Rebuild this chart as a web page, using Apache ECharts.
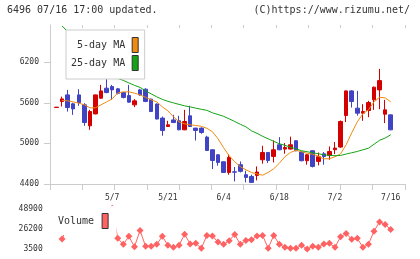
<!DOCTYPE html>
<html>
<head>
<meta charset="utf-8">
<script src="https://cdn.jsdelivr.net/npm/echarts@6.0.0/dist/echarts.min.js"></script>
<style>
html, body { margin: 0; padding: 0; background: #fff; }
#main { width: 420px; height: 259px; }
</style>
</head>
<body>
<div id="main"></div>
<script>
var dates = ['4/23','4/24','4/25','4/26','4/29','4/30','5/1','5/2','5/3','5/6',
  '5/7','5/8','5/9','5/10','5/13','5/14','5/15','5/16','5/17','5/20',
  '5/21','5/22','5/23','5/24','5/27','5/28','5/29','5/30','5/31','6/3',
  '6/4','6/5','6/6','6/7','6/10','6/11','6/12','6/13','6/14','6/17',
  '6/18','6/19','6/20','6/21','6/24','6/25','6/26','6/27','6/28','7/1',
  '7/2','7/3','7/4','7/5','7/8','7/9','7/10','7/11','7/12','7/15','7/16'];

var opens = [5530,5619,5717,5585,5717,5570,5260,5436,5668,5816,
  5840,5806,5751,5707,5570,5791,5801,5654,5582,5374,
  5250,5347,5334,5201,5408,5226,5226,5093,4906,4832,
  4729,4571,4580,4685,4537,4512,4527,4758,4866,4807,
  4980,4916,4916,5039,4872,4744,4891,4734,4847,4822,
  4906,4946,5412,5776,5521,5447,5486,5644,5791,5432,5422];
var closes = [5536,5658,5530,5510,5604,5309,5471,5717,5776,5751,
  5791,5740,5680,5610,5629,5717,5620,5471,5360,5190,
  5275,5309,5201,5324,5250,5191,5161,4896,4748,4719,
  4571,4793,4575,4587,4497,4424,4577,4866,4748,4906,
  4906,4940,4980,4891,4744,4832,4660,4803,4807,4881,
  4931,5324,5776,5619,5447,5471,5604,5831,5928,5496,5201];
var lows = [5530,5545,5470,5422,5555,5260,5201,5430,5660,5742,
  5644,5725,5665,5600,5536,5705,5610,5465,5355,5113,
  5245,5300,5195,5195,5245,5043,5142,4890,4621,4670,
  4565,4537,4438,4571,4424,4420,4453,4700,4710,4719,
  4900,4847,4910,4885,4735,4685,4645,4675,4685,4758,
  4842,4935,5315,5530,5410,5334,5388,5496,5506,5300,5195];
var highs = [5536,5692,5791,5600,5801,5595,5496,5720,5865,5987,
  5865,5820,5760,5865,5654,5806,5815,5660,5590,5397,
  5334,5422,5408,5496,5555,5230,5236,5113,4915,4840,
  4735,4843,4651,4733,4596,4537,4660,4965,4870,5043,
  5093,5005,5100,5045,4880,4840,4895,4866,4872,4955,
  5020,5339,5780,5785,5776,5580,5629,5840,6101,5644,5425];

var ma5 = [null,5636,5629,5614,5595,5570,5526,5526,5570,5614,
  5658,5747,5762,5762,5743,5717,5681,5644,5614,5540,
  5481,5393,5319,5289,5275,5265,5253,5223,5172,5068,
  4936,4818,4729,4655,4611,4571,4548,4530,4571,4626,
  4707,4803,4866,4899,4877,4854,4840,4810,4773,4773,
  4803,4847,4980,5157,5319,5437,5496,5614,5681,5673,5614];
var ma25 = [null,6736,6654,6580,6499,6418,6344,6271,6190,6108,
  6035,5961,5931,5894,5858,5828,5776,5732,5688,5651,
  5622,5599,5577,5555,5540,5521,5504,5489,5452,5427,
  5400,5363,5324,5282,5245,5186,5149,5105,5068,5031,
  4995,4972,4943,4921,4891,4877,4862,4847,4832,4822,
  4818,4822,4843,4862,4881,4906,4928,4987,5046,5079,5127];

var volumes = [null,15100,30000,24000,28000,38000,33000,42000,30000,26000,
  50000,15900,9100,18200,6400,24900,6900,6900,9100,18200,
  8000,5800,8000,20700,9500,10300,4600,19300,18500,11700,
  9100,13200,20400,9100,13600,14300,18500,19300,4600,19300,
  9100,5800,4600,4600,8000,3800,6900,5800,9500,10300,
  5800,17700,21500,14800,15900,5800,9100,24100,34600,31700,26000];

var priceTicks = [4400, 5000, 5600, 6200];
var volumeTicks = [3500, 26200, 48900];

var mono = 'DejaVu Sans Mono';
var axisGray = '#cccccc';
var plain = function (v) { return String(v); };
var labelStyle = { fontFamily: mono, fontSize: 8, color: '#333' };

var candles = opens.map(function (o, i) {
  return [o, closes[i], lows[i], highs[i]];
});

var chart = echarts.init(document.getElementById('main'));
chart.setOption({
  animation: false,
  title: [
    { text: '6496 07/16 17:00 updated.', left: 7, top: 5, padding: 0,
      textStyle: { fontFamily: mono, fontSize: 10, fontWeight: 'normal', color: '#333' } },
    { text: '(C)https://www.rizumu.net/', right: 10, top: 5, padding: 0,
      textStyle: { fontFamily: mono, fontSize: 10, fontWeight: 'normal', color: '#333' } }
  ],
  legend: [
    {
      data: ['5-day MA', '25-day MA'],
      orient: 'vertical', left: 66, top: 30, align: 'right',
      icon: 'rect', itemWidth: 6, itemHeight: 15, itemGap: 2,
      padding: [7, 6, 8, 5],
      backgroundColor: '#fff', borderColor: '#cccccc', borderWidth: 1,
      selectedMode: false,
      itemStyle: { borderColor: '#333', borderWidth: 1 },
      textStyle: { fontFamily: mono, fontSize: 10, color: '#333', padding: [0, 2, 0, 0] }
    },
    {
      data: ['Volume'],
      orient: 'vertical', left: 53, top: 206, align: 'right',
      icon: 'rect', itemWidth: 6, itemHeight: 15,
      padding: [7, 8, 6, 5],
      backgroundColor: '#fff', borderWidth: 0,
      selectedMode: false,
      itemStyle: { borderColor: '#333', borderWidth: 1 },
      textStyle: { fontFamily: mono, fontSize: 10, color: '#333', padding: [0, 3, 0, 0] }
    }
  ],
  grid: [
    { left: 50, right: 15, top: 25, bottom: 75 },
    { left: 53.7, right: 26.5, top: 25, bottom: 75 },
    { left: 53.7, right: 26.5, top: 209.3, bottom: 9.7 }
  ],
  xAxis: [
    { gridIndex: 0, type: 'value', min: 0, max: 11, interval: 1,
      axisLine: { onZero: false, lineStyle: { color: axisGray } },
      axisTick: { length: 6, lineStyle: { color: axisGray } },
      axisLabel: { show: false }, splitLine: { show: false } },
    { gridIndex: 0, type: 'value', min: 0, max: 11, interval: 1,
      axisLine: { show: false },
      axisTick: { inside: true, length: 3, lineStyle: { color: axisGray } },
      axisLabel: { show: false }, splitLine: { show: false } },
    { gridIndex: 1, type: 'category', data: dates, boundaryGap: true,
      axisLine: { show: false }, axisTick: { show: false },
      axisLabel: Object.assign({
        margin: 10,
        interval: function (i) { return i > 0 && i % 10 === 0; }
      }, labelStyle) },
    { gridIndex: 2, type: 'category', data: dates, boundaryGap: true, show: false }
  ],
  yAxis: [
    { gridIndex: 0, type: 'value', min: 4400, max: 6750, interval: 600,
      axisLine: { show: true, onZero: false, lineStyle: { color: axisGray } },
      axisTick: { show: true, length: 6, customValues: priceTicks, lineStyle: { color: axisGray } },
      axisLabel: Object.assign({ margin: 11, customValues: priceTicks, formatter: plain }, labelStyle),
      splitLine: { show: false } },
    { gridIndex: 0, type: 'value', min: 4400, max: 6750, interval: 600,
      axisLine: { show: false },
      axisTick: { show: true, inside: true, length: 3, customValues: priceTicks, lineStyle: { color: axisGray } },
      axisLabel: { show: false }, splitLine: { show: false } },
    { gridIndex: 1, type: 'value', min: 4400, max: 6750, show: false },
    { gridIndex: 2, type: 'value', min: 3500, max: 48900, interval: 22700,
      axisLine: { show: false }, axisTick: { show: false },
      axisLabel: Object.assign({ margin: 11, customValues: volumeTicks, formatter: plain }, labelStyle),
      splitLine: { show: false } }
  ],
  series: [
    {
      type: 'candlestick', xAxisIndex: 2, yAxisIndex: 2,
      data: candles, barWidth: 4,
      itemStyle: {
        color: '#d40000', color0: '#4044c4',
        borderColor: '#d40000', borderColor0: '#4044c4', borderWidth: 1
      }
    },
    {
      name: '5-day MA', type: 'line', xAxisIndex: 2, yAxisIndex: 2,
      data: ma5, showSymbol: false, color: '#f28a10',
      lineStyle: { width: 1, color: '#f28a10' }
    },
    {
      name: '25-day MA', type: 'line', xAxisIndex: 2, yAxisIndex: 2,
      data: ma25, showSymbol: false, color: '#14a314',
      lineStyle: { width: 1, color: '#14a314' }
    },
    {
      name: 'Volume', type: 'line', xAxisIndex: 3, yAxisIndex: 3,
      data: volumes, symbol: 'diamond', symbolSize: 7, showAllSymbol: true,
      clip: false, color: '#ff6262',
      itemStyle: { color: '#ff6262' },
      lineStyle: { width: 1, color: '#ff6262' }
    }
  ]
});
</script>
</body>
</html>
